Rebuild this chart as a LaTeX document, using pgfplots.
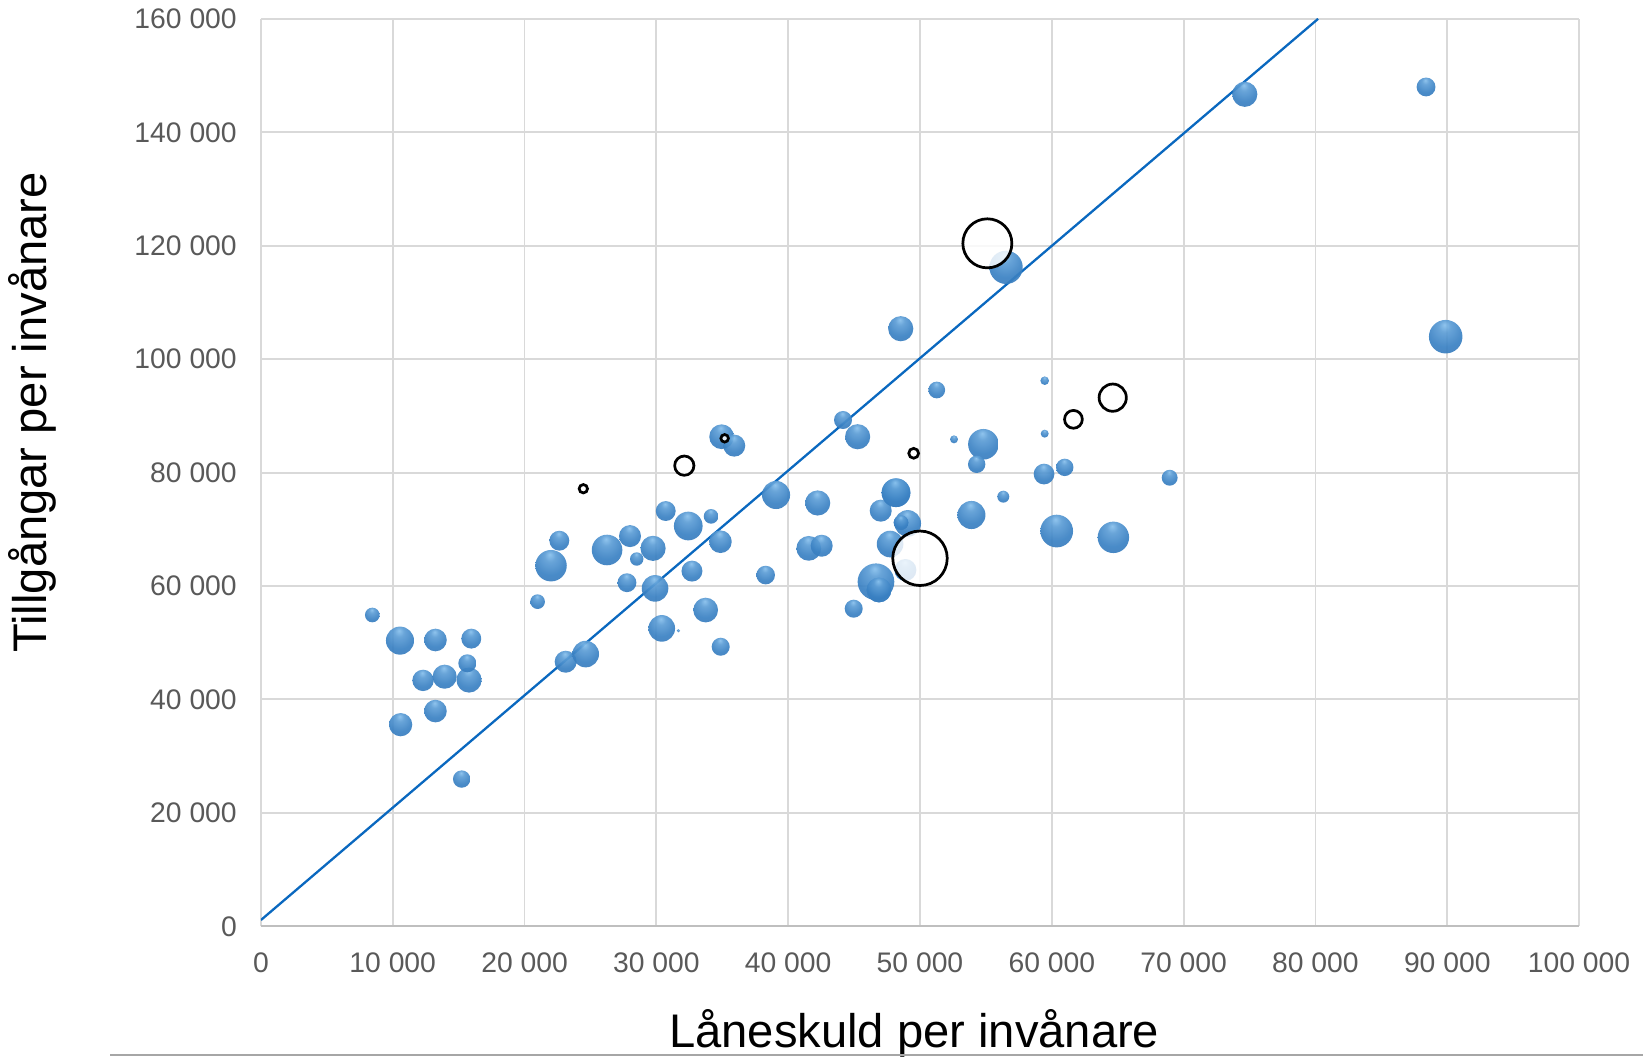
\documentclass[border=0pt]{standalone}
\usepackage{fontspec}
\setmainfont{Liberation Sans}
\usepackage{pgfplots}
\usepackage{pgfplotstable}
\pgfplotsset{compat=1.18}
\usepackage{xcolor}
\definecolor{gridgray}{HTML}{D9D9D9}
\definecolor{axgray}{HTML}{BFBFBF}
\definecolor{ticktext}{HTML}{595959}
\definecolor{lineblue}{HTML}{0A68BF}
\definecolor{bubhi}{HTML}{86BFEC}
\definecolor{bubmid}{HTML}{3A81C3}
\definecolor{bublo}{HTML}{235893}

% bubble look: light spot above centre, darker rim below
\pgfdeclareradialshading{bluebub}{\pgfpoint{-2bp}{18bp}}{%
  color(0bp)=(bubhi); color(9bp)=(bubmid!55!bubhi); color(26bp)=(bubmid);
  color(52bp)=(bubmid!70!bublo); color(70bp)=(bublo)}
\pgfdeclareradialshading{whitebub}{\pgfpoint{0bp}{15bp}}{%
  color(0bp)=(white); color(32bp)=(white); color(55bp)=(black!16); color(70bp)=(black!26)}

\pgfdeclareplotmark{bluebub}{%
  \pgfsetfillopacity{0.92}%
  \pgfpathcircle{\pgfpointorigin}{\pgfplotmarksize}%
  \pgfshadepath{bluebub}{0}%
  \pgfusepath{discard}}
\pgfdeclareplotmark{whitebub}{%
  \pgfsetfillopacity{0.82}%
  \pgfpathcircle{\pgfpointorigin}{\pgfplotmarksize}%
  \pgfshadepath{whitebub}{0}%
  \pgfsetstrokeopacity{1}\pgfsetstrokecolor{black}\pgfsetlinewidth{1.3pt}%
  \pgfusepath{stroke}}

% x = låneskuld, y = tillgångar, r = bubble radius (pt)
\pgfplotstableread{
x y r
8450 54890 3.5
10550 50370 6.7
13240 50480 5.4
15960 50720 4.75
12300 43360 5.1
13940 44010 5.75
15790 43420 6.0
15660 46370 4.3
10600 35550 5.55
13240 37950 5.4
15230 25960 4.15
20990 57240 3.5
22010 63580 7.5
22640 67990 4.75
23120 46650 5.25
24640 48000 6.35
26260 66350 7.3
28000 68800 5.25
28510 64760 3.2
27770 60580 4.5
29750 66640 6.0
29900 59580 6.35
30410 52530 6.35
31670 52120 0.8
30710 73220 4.75
32420 70580 6.85
32700 62630 5.0
34150 72280 3.5
33740 55760 5.9
34860 67810 5.4
34880 49290 4.3
34950 86320 5.9
35910 84750 5.25
38290 61930 4.45
39080 76050 6.7
42240 74640 6.0
41560 66640 5.9
42540 67100 5.25
44160 89270 4.3
45270 86320 6.0
47020 73280 5.25
48180 76450 6.85
48180 76450 6.85
47730 67400 6.35
49070 71040 6.35
48560 71170 3.5
48560 71170 3.5
46660 60750 8.75
46890 59290 5.9
46890 59290 5.9
48890 62820 5.25
44970 56000 4.3
48540 105370 6.0
51270 94560 4.0
52580 85860 1.9
54810 84990 7.3
54300 81460 4.15
53900 72520 6.7
56320 75750 2.85
56530 116190 7.95
59460 96200 2.05
59460 86860 1.9
59410 79740 4.95
60980 80920 4.15
60370 69690 7.8
64670 68580 7.5
68940 79090 3.8
74640 146700 6.0
88390 147990 4.5
89880 103960 8.0
}\bluedata

\pgfplotstableread{
x y r
24460 77150 2.0
32120 81220 4.6
35180 86040 1.8
49520 83400 2.35
55110 120420 11.7
50000 64890 13.0
61640 89390 4.25
64620 93210 6.5
}\whitedata

\begin{document}
\begin{tikzpicture}
\useasboundingbox (0,0) rectangle (784pt,504.5pt);
\begin{axis}[
  at={(124.5pt,62.5pt)}, anchor=south west,
  scale only axis, width=629pt, height=433pt,
  xmin=0, xmax=100000, ymin=0, ymax=160000,
  xtick={0,10000,...,100000}, ytick={0,20000,...,160000},
  scaled ticks=false,
  grid=major, major grid style={draw=gridgray, line width=0.9pt},
  axis line style={draw=none},
  major tick length=0pt,
  tick label style={font=\fontsize{13.5}{16}\selectfont, text=ticktext},
  xticklabel shift=9pt, yticklabel shift=8pt,
  /pgf/number format/.cd, fixed, 1000 sep={\ }, assume math mode=true,
]
\draw[axgray, line width=1.2pt] (rel axis cs:0,0) -- (rel axis cs:1,0);

\addplot[scatter, only marks, mark=bluebub, point meta=\thisrow{r},
  visualization depends on={\thisrow{r}\as\rad},
  scatter/@pre marker code/.append style={/tikz/mark size=\rad}]
  table[x=x, y=y] {\bluedata};

\addplot[lineblue, line width=1.1pt, no marks] coordinates {(0,1100) (80200,160000)};

\addplot[scatter, only marks, mark=whitebub, point meta=\thisrow{r},
  visualization depends on={\thisrow{r}\as\rad},
  scatter/@pre marker code/.append style={/tikz/mark size=\rad}]
  table[x=x, y=y] {\whitedata};
\end{axis}

\node[rotate=90, anchor=base, font=\fontsize{22.5}{27}\selectfont] at (22.25pt,307.75pt) {Tillgångar per invånare};
\node[anchor=base, font=\fontsize{22.5}{27}\selectfont] at (436.25pt,4.5pt) {Låneskuld per invånare};
\draw[color={rgb,255:red,166;green,166;blue,166}, line width=0.8pt] (52.5pt,1pt) -- (784pt,1pt);
\end{tikzpicture}
\end{document}
